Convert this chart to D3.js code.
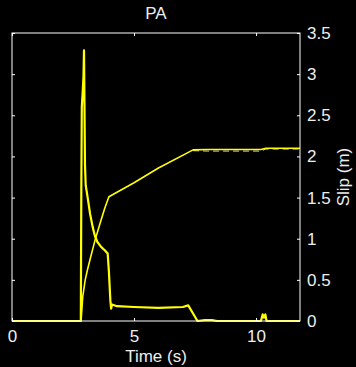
<!DOCTYPE html>
<html>
<head>
<meta charset="utf-8">
<script src="https://cdn.jsdelivr.net/npm/d3@7"></script>
<style>
  html, body { margin: 0; padding: 0; background: #000; }
  svg { display: block; }
  text { font-family: "Liberation Sans", Arial, sans-serif; fill: #eeeeee; }
</style>
</head>
<body>
<svg id="chart" width="356" height="367"></svg>
<script>
// slip (m), time in seconds
const slipTime = [0, 2.83, 2.9, 3.0, 3.09, 3.2, 3.4, 3.6, 3.8, 3.97, 5.0, 6.0, 7.42, 8.0, 9.0, 10.2, 10.4, 11.8];
const slipValue = [0, 0, 0.3, 0.5, 0.62, 0.75, 0.98, 1.18, 1.37, 1.51, 1.68, 1.86, 2.08, 2.085, 2.085, 2.085, 2.1, 2.1];

// second (white dashed) slip trace, mostly hidden under the yellow one
const slip2Time = [7.42, 8.0, 9.0, 10.2, 10.4, 11.8];
const slip2Value = [2.07, 2.065, 2.065, 2.065, 2.09, 2.09];

// slip rate (m/s)
const rateTime = [0, 2.82, 2.84, 2.86, 2.9, 2.93, 2.95, 2.97, 2.99, 3.02, 3.1, 3.2, 3.3, 3.4, 3.5, 3.65, 3.8, 3.92,
                  3.97, 4.03, 4.06, 4.1, 4.3, 5.0, 6.0, 7.0, 7.22, 7.4, 7.6, 7.9, 8.2, 8.4, 10.2, 10.27, 10.32, 10.38, 10.43, 11.8];
const rateValue = [0, 0, 1.6, 2.6, 2.8, 2.98, 3.29, 2.6, 1.9, 1.65, 1.5, 1.3, 1.15, 1.03, 0.96, 0.9, 0.86, 0.82,
                   0.6, 0.25, 0.15, 0.2, 0.18, 0.17, 0.16, 0.17, 0.19, 0.1, 0.0, 0.01, 0.01, 0.0, 0, 0.08, 0.04, 0.08, 0, 0];

const xTicks = [0, 5, 10];
const yTicks = [0, 0.5, 1, 1.5, 2, 2.5, 3, 3.5];
const yTickLabels = ["0", "0.5", "1", "1.5", "2", "2.5", "3", "3.5"];

const svg = d3.select("#chart");
const plotLeft = 12, plotRight = 300, plotTop = 33, plotBottom = 321;

const x = d3.scaleLinear().domain([0, 11.8]).range([plotLeft, plotRight]);
const y = d3.scaleLinear().domain([0, 3.5]).range([plotBottom, plotTop]);

const line = d3.line()
  .x(d => x(d[0]))
  .y(d => y(d[1]));

const slip = d3.zip(slipTime, slipValue);
const slip2 = d3.zip(slip2Time, slip2Value);
const rate = d3.zip(rateTime, rateValue);

// dashed trace first, yellow on top
svg.append("path")
  .attr("d", line(slip2))
  .attr("fill", "none")
  .attr("stroke", "#d8d8d8")
  .attr("stroke-width", 1)
  .attr("stroke-dasharray", "6,4");

svg.append("path")
  .attr("d", line(rate))
  .attr("fill", "none")
  .attr("stroke", "#ffff00")
  .attr("stroke-width", 2.2)
  .attr("stroke-linejoin", "round");

svg.append("path")
  .attr("d", line(slip))
  .attr("fill", "none")
  .attr("stroke", "#ffff00")
  .attr("stroke-width", 1.6)
  .attr("stroke-linejoin", "round");

// box
svg.append("rect")
  .attr("x", plotLeft).attr("y", plotTop)
  .attr("width", plotRight - plotLeft).attr("height", plotBottom - plotTop)
  .attr("fill", "none")
  .attr("stroke", "#ffffff")
  .attr("stroke-width", 1);

// bottom axis, ticks pointing inside
const xAxis = svg.append("g")
  .attr("transform", `translate(0,${plotBottom})`)
  .call(d3.axisBottom(x).tickValues(xTicks).tickSize(-3).tickPadding(9));
xAxis.select(".domain").remove();

// top ticks only
const xTop = svg.append("g")
  .attr("transform", `translate(0,${plotTop})`)
  .call(d3.axisTop(x).tickValues(xTicks).tickSize(-3).tickFormat(""));
xTop.select(".domain").remove();

// right axis with labels
const yAxis = svg.append("g")
  .attr("transform", `translate(${plotRight},0)`)
  .call(d3.axisRight(y).tickValues(yTicks).tickSize(-3).tickPadding(7)
    .tickFormat((d, i) => yTickLabels[i]));
yAxis.select(".domain").remove();

// left ticks only
const yLeft = svg.append("g")
  .attr("transform", `translate(${plotLeft},0)`)
  .call(d3.axisLeft(y).tickValues(yTicks).tickSize(-3).tickFormat(""));
yLeft.select(".domain").remove();

svg.selectAll(".tick line").attr("stroke", "#ffffff");
svg.selectAll(".tick text")
  .attr("fill", "#eeeeee")
  .attr("font-size", "17px")
  .attr("font-family", "Liberation Sans, Arial, sans-serif");

// title and axis labels
svg.append("text")
  .attr("x", (plotLeft + plotRight) / 2)
  .attr("y", 19)
  .attr("text-anchor", "middle")
  .attr("font-size", "17px")
  .text("PA");

svg.append("text")
  .attr("x", (plotLeft + plotRight) / 2)
  .attr("y", 362)
  .attr("text-anchor", "middle")
  .attr("font-size", "17px")
  .text("Time (s)");

svg.append("text")
  .attr("transform", `translate(349,${(plotTop + plotBottom) / 2}) rotate(-90)`)
  .attr("text-anchor", "middle")
  .attr("font-size", "17px")
  .text("Slip (m)");
</script>
</body>
</html>
